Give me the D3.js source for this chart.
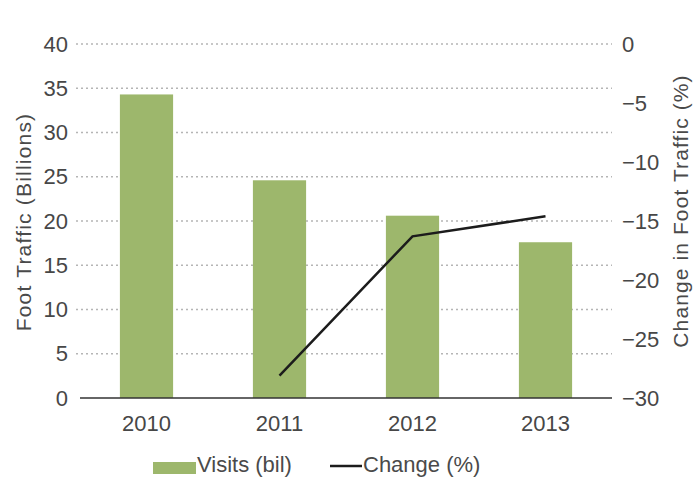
<!DOCTYPE html>
<html>
<head>
<meta charset="utf-8">
<script src="https://cdn.jsdelivr.net/npm/d3@7"></script>
<style>
  body { margin: 0; background: #fff; }
  text { font-family: "Liberation Sans", Arial, sans-serif; fill: #4a4a4a; }
</style>
</head>
<body>
<svg id="chart" width="694" height="477"></svg>
<script>
// data
const years = ["2010", "2011", "2012", "2013"];
const visits = [34.3, 24.6, 20.6, 17.6];
const change = [null, -28.1, -16.3, -14.6];
const leftTicks = [0, 5, 10, 15, 20, 25, 30, 35, 40];
const rightTicks = [0, -5, -10, -15, -20, -25, -30];

const svg = d3.select("#chart");
const plotL = 80, plotR = 612, plotT = 44, plotB = 398;

const x = d3.scaleBand().domain(years).range([plotL, plotR])
  .paddingInner(0.6).paddingOuter(0.3);
const y = d3.scaleLinear().domain([0, 40]).range([plotB, plotT]);
const y2 = d3.scaleLinear().domain([-30, 0]).range([plotB, plotT]);

// gridlines
svg.append("g").selectAll("line")
  .data(leftTicks.filter(d => d > 0))
  .enter().append("line")
  .attr("x1", plotL - 4).attr("x2", plotR)
  .attr("y1", d => y(d)).attr("y2", d => y(d))
  .attr("stroke", "#b5b5b5")
  .attr("stroke-width", 1.5)
  .attr("stroke-dasharray", "2,3");

// bars
svg.append("g").selectAll("rect")
  .data(years)
  .enter().append("rect")
  .attr("x", d => x(d))
  .attr("width", x.bandwidth())
  .attr("y", (d, i) => y(visits[i]))
  .attr("height", (d, i) => y(0) - y(visits[i]))
  .attr("fill", "#9db76c");

// baseline
svg.append("line")
  .attr("x1", plotL).attr("x2", plotR)
  .attr("y1", plotB).attr("y2", plotB)
  .attr("stroke", "#333").attr("stroke-width", 1.5);

// change line
const pts = years.map((d, i) => ({ yr: d, v: change[i] })).filter(d => d.v !== null);
const line = d3.line()
  .x(d => x(d.yr) + x.bandwidth() / 2)
  .y(d => y2(d.v));
svg.append("path")
  .datum(pts)
  .attr("d", line)
  .attr("fill", "none")
  .attr("stroke", "#1c1c1c")
  .attr("stroke-width", 2.5);

function styleTicks(g) {
  g.select(".domain").remove();
  g.selectAll("text").style("font-size", "22px").style("fill", "#474747")
    .style("font-family", "Liberation Sans, Arial, sans-serif");
}

// left axis labels
const leftAxis = d3.axisLeft(y).tickValues(leftTicks).tickSize(0).tickPadding(10);
svg.append("g").attr("transform", "translate(" + (plotL - 2) + ",0)").call(leftAxis).call(styleTicks);

// right axis labels
const rightAxis = d3.axisRight(y2).tickValues(rightTicks).tickSize(0).tickPadding(10)
  .tickFormat(d => d === 0 ? "0" : "\u2212" + Math.abs(d));
svg.append("g").attr("transform", "translate(" + plotR + ",0)").call(rightAxis).call(styleTicks);

// x axis labels
const xAxis = d3.axisBottom(x).tickSize(0).tickPadding(17);
svg.append("g").attr("transform", "translate(0," + plotB + ")").call(xAxis).call(styleTicks);

// axis titles
svg.append("text")
  .attr("transform", "translate(31,222) rotate(-90)")
  .attr("text-anchor", "middle")
  .style("font-size", "21px")
  .style("letter-spacing", "1.2px")
  .text("Foot Traffic (Billions)");

svg.append("text")
  .attr("transform", "translate(688,211) rotate(-90)")
  .attr("text-anchor", "middle")
  .style("font-size", "21px")
  .style("letter-spacing", "1.1px")
  .text("Change in Foot Traffic (%)");

// legend
const lg = svg.append("g");
lg.append("rect").attr("x", 153).attr("y", 462).attr("width", 43).attr("height", 12).attr("fill", "#9db76c");
lg.append("text").attr("x", 197).attr("y", 472).style("font-size", "22px").text("Visits (bil)");
lg.append("line").attr("x1", 330).attr("x2", 362).attr("y1", 466).attr("y2", 466)
  .attr("stroke", "#1c1c1c").attr("stroke-width", 2.5);
lg.append("text").attr("x", 363).attr("y", 472).style("font-size", "22px").text("Change (%)");
</script>
</body>
</html>
